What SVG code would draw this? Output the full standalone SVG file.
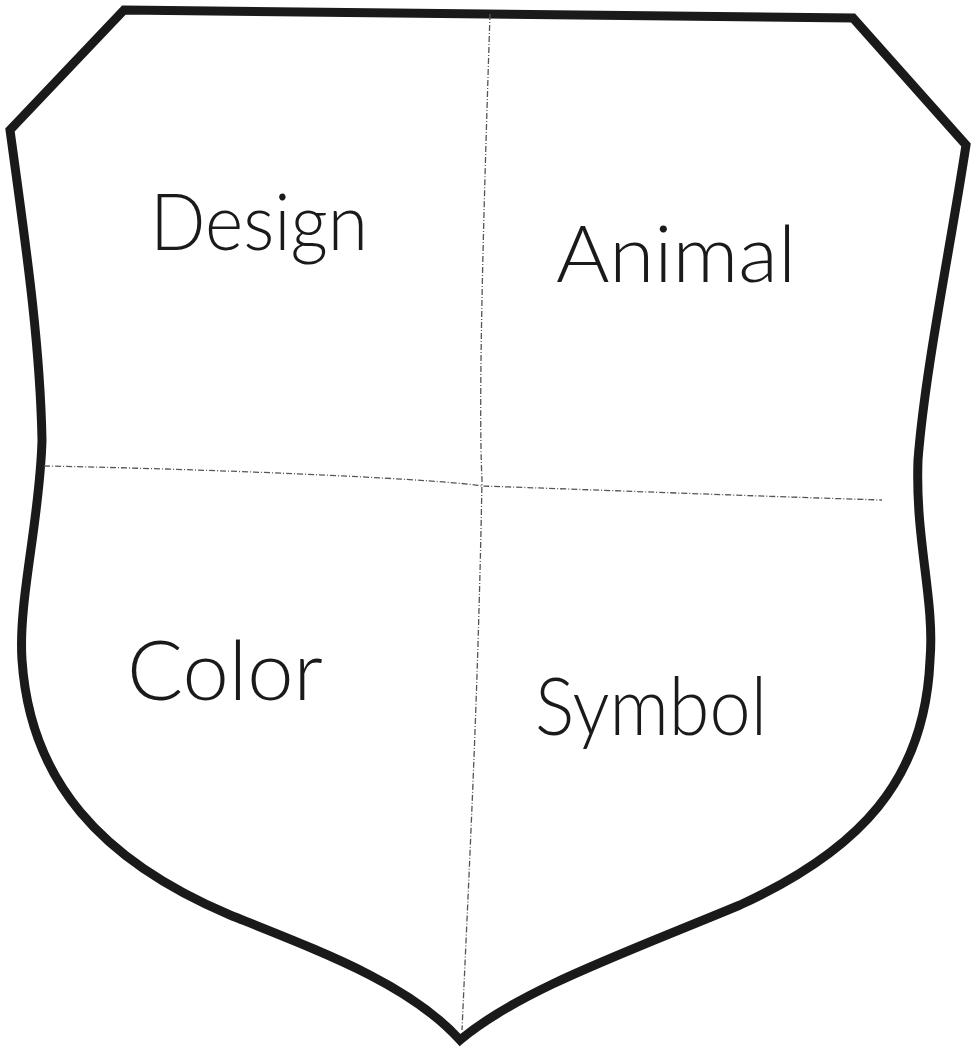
<svg xmlns="http://www.w3.org/2000/svg" width="971" height="1048" viewBox="0 0 971 1048">
<style>
.outline{fill:#fff;stroke:#1a1a1a;stroke-width:9;stroke-linejoin:miter}
.div{stroke:#555;stroke-width:1.3;fill:none;stroke-dasharray:6 2 1 2}
.lbl{font-family:Lato,"Liberation Sans",sans-serif;font-weight:300;fill:#1a1a1a}
</style>
<rect width="971" height="1048" fill="#fff"/>
<g id="shield">
<path class="outline" d="M124,10 L853,18 L966,145 C950,250 925,370 918,460 C915,540 935,600 930,660 C925,780 860,850 740,905 C620,955 520,990 460,1040 C410,985 330,955 230,915 C100,860 30,780 22,660 C18,600 40,520 42,440 C40,340 25,240 10,130 Z"/>
</g>
<g id="dividers">
<path class="div" d="M490,14 C484,200 478,400 482,480 C478,700 470,850 462,1030"/>
<path class="div" d="M44,466 C250,470 450,480 482,486 C600,490 750,496 882,500"/>
</g>
<g id="design"><text class="lbl" x="150" y="250" font-size="78" textLength="218" lengthAdjust="spacingAndGlyphs">Design</text></g>
<g id="animal"><text class="lbl" x="556" y="282" font-size="78" textLength="240" lengthAdjust="spacingAndGlyphs">Animal</text></g>
<g id="color"><text class="lbl" x="127" y="700" font-size="82" textLength="196" lengthAdjust="spacingAndGlyphs">Color</text></g>
<g id="symbol"><text class="lbl" x="535" y="735" font-size="80" textLength="232" lengthAdjust="spacingAndGlyphs">Symbol</text></g>
</svg>
